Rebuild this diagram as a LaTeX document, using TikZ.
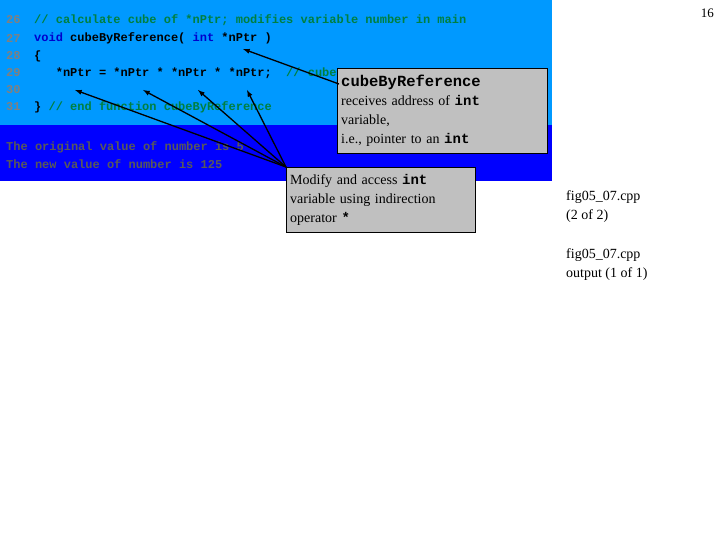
\documentclass[tikz,border=0pt]{standalone}
\usepackage{fontspec}
\setmainfont{Liberation Serif}
\setmonofont{Liberation Mono}
\definecolor{lblue}{RGB}{0,153,255}
\definecolor{dblue}{RGB}{0,0,255}
\definecolor{cgreen}{RGB}{0,128,64}
\definecolor{kw}{RGB}{0,0,204}
\definecolor{lnum}{RGB}{128,128,128}
\definecolor{boxg}{RGB}{192,192,192}
\begin{document}
\begin{tikzpicture}[x=1pt,y=-1pt,
  code/.style={anchor=west,inner sep=0pt,font=\ttfamily\bfseries\fontsize{12}{12}\selectfont},
  lnum/.style={code,text=lnum},
  note/.style={draw=black,fill=boxg,anchor=north west,align=left,inner sep=4pt,font=\fontsize{14}{19}\selectfont},
  side/.style={anchor=west,inner sep=0pt,align=left,font=\fontsize{14}{19}\selectfont},
  arr/.style={-latex,line width=1.3pt}]
\useasboundingbox (0,0) rectangle (720,540);
\fill[lblue] (0,0) rectangle (552,125);
\fill[dblue] (0,125) rectangle (552,181);
\node[lnum] (l26) at (6,20) {26};
\node[lnum] (l27) at (6,38) {27};
\node[lnum] (l28) at (6,56) {28};
\node[lnum] (l29) at (6,73) {29};
\node[lnum] (l30) at (6,90) {30};
\node[lnum] (l31) at (6,107) {31};
\node[code,text=cgreen] (c26) at (34,20) {// calculate cube of *nPtr; modifies variable number in main};
\node[code] (c27) at (34,38) {\textcolor{kw}{void} cubeByReference( \textcolor{kw}{int} *nPtr )};
\node[code] (c28) at (34,56) {\{};
\node[code] (c29) at (34,73) {\ \ \ *nPtr = *nPtr * *nPtr * *nPtr;\ \ \textcolor{cgreen}{// cube}};
\node[code] (c31) at (34,107) {\} \textcolor{cgreen}{// end function cubeByReference}};
\node[code,text=black!65] (o1) at (6,147) {The original value of number is 5};
\node[code,text=black!65] (o2) at (6,164) {The new value of number is 125};
\coordinate (p0) at (243,49);
\coordinate (p1) at (75,90);
\coordinate (p2) at (143,90);
\coordinate (p3) at (198,90);
\coordinate (p4) at (247,90);
\node[note,text width=202pt,minimum height=85pt] (b1) at (337,68)
 {{\ttfamily\bfseries\fontsize{15.5}{19}\selectfont cubeByReference}\\receives address of {\ttfamily\bfseries int}\\variable,\\i.e., pointer to an {\ttfamily\bfseries int}};
\node[note,text width=181pt,minimum height=65pt] (b2) at (286,167)
 {Modify and access {\ttfamily\bfseries int}\\variable using indirection\\operator {\ttfamily\bfseries *}};
\draw[arr] (b1.north west) ++(2,16) -- (p0);
\foreach \p in {p1,p2,p3,p4} \draw[arr] (b2.north west) -- (\p);
\node[side] (f1) at (566,207) {fig05\_07.cpp\\(2 of 2)};
\node[side] (f2) at (566,265) {fig05\_07.cpp\\output (1 of 1)};
\node[anchor=east,inner sep=0pt,font=\fontsize{13}{15}\selectfont] (pg) at (714,13) {16};
\end{tikzpicture}
\end{document}
